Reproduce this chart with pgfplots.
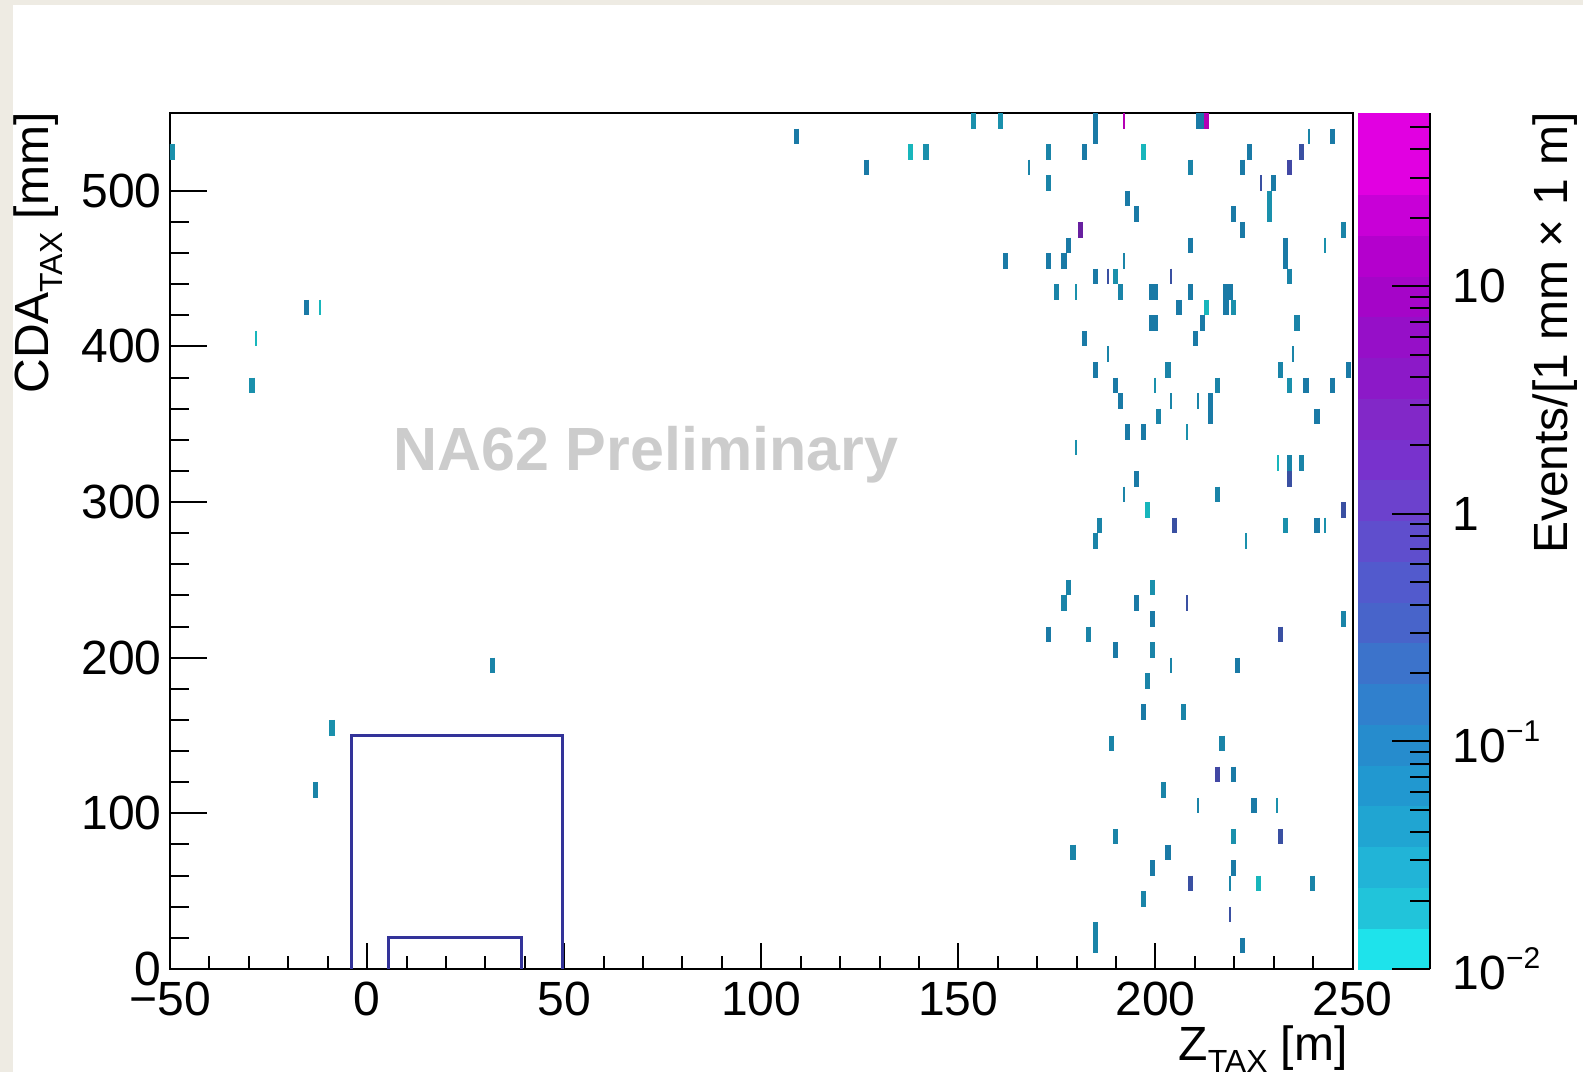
\documentclass[border=0pt]{standalone}
\usepackage{pgfplots}
\pgfplotsset{compat=1.18}
\usepackage{pgfplotstable}
\usepackage{fontspec}
\setmainfont{Liberation Sans}
\definecolor{bgbeige}{RGB}{238,235,227}
\definecolor{boxblue}{RGB}{51,51,153}
\definecolor{wm}{RGB}{204,204,204}

% bin centre Z [m], bin centre CDA [mm], events per bin
\pgfplotstableread{
x y z
-49.5 525 0.025
109.0 535 0.07
126.8 515 0.07
137.8 525 0.012
141.8 525 0.025
153.9 545 0.025
160.7 545 0.025
184.8 545 0.07
210.9 545 0.07
211.9 545 0.07
212.9 545 46
184.8 535 0.07
245.0 535 0.07
172.8 525 0.045
182.0 525 0.07
196.9 525 0.012
223.8 525 0.07
237.0 525 0.35
208.9 515 0.045
222.1 515 0.07
234.1 515 0.61
172.8 505 0.045
230.0 505 0.07
192.9 495 0.07
229.0 495 0.025
195.2 485 0.07
219.8 485 0.07
229.0 485 0.025
180.9 475 2.2
222.1 475 0.07
247.8 475 0.045
177.9 465 0.07
208.9 465 0.07
233.0 465 0.07
161.9 455 0.07
172.8 455 0.07
176.8 455 0.07
233.0 455 0.07
184.8 445 0.07
189.9 445 0.025
234.1 445 0.045
175.0 435 0.045
191.1 435 0.045
199.0 435 0.07
200.0 435 0.07
208.9 435 0.07
217.9 435 0.07
218.9 435 0.07
-15.3 425 0.07
206.0 425 0.07
213.0 425 0.012
217.9 425 0.07
219.8 425 0.025
199.0 415 0.07
200.0 415 0.07
211.9 415 0.07
235.9 415 0.045
182.0 405 0.07
210.1 405 0.07
184.8 385 0.07
203.2 385 0.045
231.8 385 0.045
248.9 385 0.07
-29.2 375 0.025
189.9 375 0.07
215.8 375 0.045
234.1 375 0.025
238.2 375 0.07
245.0 375 0.07
191.1 365 0.07
214.0 365 0.07
200.8 355 0.045
214.0 355 0.07
241.0 355 0.07
192.9 345 0.07
196.9 345 0.07
234.1 325 0.045
237.0 325 0.045
195.2 315 0.07
234.1 315 0.35
215.8 305 0.045
198.0 295 0.012
247.8 295 0.35
185.9 285 0.045
204.9 285 0.35
233.0 285 0.025
241.0 285 0.07
184.8 275 0.045
177.9 245 0.045
199.2 245 0.025
176.8 235 0.045
195.2 235 0.07
199.2 225 0.07
247.8 225 0.045
172.8 215 0.07
183.1 215 0.045
231.8 215 0.35
189.9 205 0.07
199.2 205 0.045
31.8 195 0.045
220.9 195 0.07
198.0 185 0.045
196.9 165 0.07
207.2 165 0.045
-8.9 155 0.025
188.9 145 0.045
216.9 145 0.045
215.8 125 0.61
219.8 125 0.07
-13.0 115 0.045
202.0 115 0.045
225.0 105 0.07
189.9 85 0.045
219.8 85 0.025
231.8 85 0.35
179.1 75 0.045
203.2 75 0.07
199.2 65 0.07
219.8 65 0.07
208.9 55 0.35
226.1 55 0.012
239.9 55 0.045
196.9 45 0.045
184.8 25 0.045
184.8 15 0.045
222.1 15 0.07
}\tblwide

\pgfplotstableread{
x y z
191.9 545 46
238.9 535 0.045
167.9 515 0.045
226.9 505 0.35
243.0 465 0.025
191.9 455 0.045
188.0 445 0.35
204.0 445 0.35
179.9 435 0.025
-12.0 425 0.012
-28.2 405 0.012
188.0 395 0.045
235.0 395 0.045
200.0 375 0.025
204.0 365 0.045
210.8 365 0.045
208.0 345 0.025
179.9 335 0.025
231.0 325 0.012
191.9 305 0.045
243.0 285 0.025
222.9 275 0.025
208.0 235 0.35
204.0 195 0.045
210.8 105 0.045
230.9 105 0.025
218.9 55 0.045
218.9 35 0.35
}\tblthin

\begin{document}
\fontsize{24}{28}\selectfont
\begin{tikzpicture}
\fill[bgbeige] (-85pt,-51.5pt) rectangle (706.5pt,484.5pt);
\path[use as bounding box] (-85pt,-51.5pt) rectangle (706.5pt,484.5pt);
\fill[white] (-78.5pt,-51.5pt) rectangle (706.5pt,482pt);

\begin{axis}[
  at={(0pt,0pt)}, anchor=south west,
  scale only axis, width=591.25pt, height=428pt,
  xmin=-50, xmax=250, ymin=0, ymax=550,
  xtick={-50,0,50,100,150,200,250},
  xticklabels={−50,0,50,100,150,200,250},
  minor x tick num=4,
  ytick=\empty,
  xtick pos=left,
  tick align=inside,
  major tick length=13pt, minor tick length=6.5pt,
  axis line style={line width=1pt},
  every tick/.style={black, line width=1pt},
  xticklabel style={font=\fontsize{24}{24}\selectfont, anchor=north, inner sep=0pt, yshift=-6.5pt},
  clip marker paths=true,
  colormap={rootcool}{
    rgb255=(30,227,235) rgb255=(33,196,218) rgb255=(33,180,215) rgb255=(32,165,210)
    rgb255=(33,152,208) rgb255=(38,140,205) rgb255=(48,128,205) rgb255=(60,115,203)
    rgb255=(72,100,202) rgb255=(82,90,205) rgb255=(95,78,205) rgb255=(108,65,205)
    rgb255=(120,50,205) rgb255=(130,40,200) rgb255=(140,25,200) rgb255=(150,15,200)
    rgb255=(165,5,200) rgb255=(180,0,205) rgb255=(200,0,215) rgb255=(225,0,225)
    rgb255=(225,0,225)},
  colormap access=piecewise constant,
  point meta min=-2, point meta max=1.762,
  colorbar,
  colorbar style={
    at={(parent axis.north east)}, anchor=north west, xshift=-6.1pt,
    scale only axis, width=36.5pt, height=428pt,
    ytick={-2,-1,0,1},
    yticklabels={10\raisebox{10.5pt}{\fontsize{15}{15}\selectfont −2},10\raisebox{10.5pt}{\fontsize{15}{15}\selectfont −1},1,10},
    minor ytick={-1.699,-1.523,-1.398,-1.301,-1.222,-1.155,-1.097,-1.046,
                 -0.699,-0.523,-0.398,-0.301,-0.222,-0.155,-0.097,-0.046,
                 0.301,0.477,0.602,0.699,0.778,0.845,0.903,0.954,
                 1.301,1.477,1.602,1.699},
    axis x line=none, axis y line*=right,
    ytick pos=right, yticklabel pos=right,
    tick align=inside,
    major tick length=19pt, minor tick length=10pt,
    axis line style={line width=1pt},
    every tick/.style={black, line width=1pt},
    yticklabel style={font=\fontsize{24}{24}\selectfont, anchor=west, inner sep=0pt, xshift=11pt},
  },
]
\node[anchor=base west, inner sep=0pt, text=wm, font=\fontsize{30.5}{30}\selectfont\bfseries] at (axis cs:6.5,320.6) {NA62 Preliminary};

\addplot[scatter, only marks, mark=|, mark size=3.89pt, mark options={line width=2.6pt},
  point meta={log10(\thisrow{z})}] table[x=x, y=y] \tblwide;
\addplot[scatter, only marks, mark=|, mark size=3.89pt, mark options={line width=1pt},
  point meta={log10(\thisrow{z})}] table[x=x, y=y] \tblthin;

\addplot[draw=boxblue, line width=1.5pt, mark=none] coordinates {(-4,0) (-4,150) (49.6,150) (49.6,0)};
\addplot[draw=boxblue, line width=1.5pt, mark=none] coordinates {(5.5,0) (5.5,20) (39.2,20) (39.2,0)};
\end{axis}

\begin{axis}[
  at={(0pt,0pt)}, anchor=south west,
  scale only axis, width=591.25pt, height=428pt,
  xmin=-50, xmax=250, ymin=0, ymax=550,
  xtick=\empty,
  ytick={0,100,200,300,400,500}, yticklabels={0,100,200,300,400,500},
  minor y tick num=4,
  ytick pos=left,
  tick align=inside,
  major tick length=18.5pt, minor tick length=9.5pt,
  axis line style={draw=none},
  every tick/.style={black, line width=1pt},
  yticklabel style={font=\fontsize{24}{24}\selectfont, anchor=east, inner sep=0pt, xshift=-4pt},
]
\end{axis}

\node[rotate=90, anchor=base east, inner sep=0pt, font=\fontsize{24}{24}\selectfont] at (-60.5pt,428.5pt) {CDA\raisebox{-7pt}{\fontsize{16}{16}\selectfont TAX} [mm]};
\node[anchor=base east, inner sep=0pt, font=\fontsize{24}{24}\selectfont] at (589pt,-45.5pt) {Z\raisebox{-6pt}{\fontsize{16}{16}\selectfont TAX} [m]};
\node[rotate=90, anchor=base east, inner sep=0pt, font=\fontsize{24}{24}\selectfont] at (698.5pt,428.5pt) {Events/[1 mm × 1 m]};
\end{tikzpicture}
\end{document}
